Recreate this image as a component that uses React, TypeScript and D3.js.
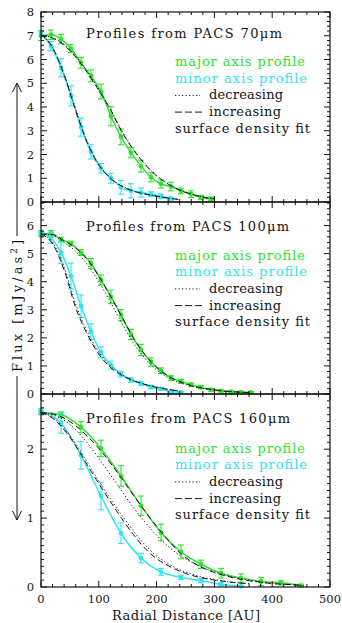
import React from "react";
import * as d3 from "d3";

// ---------- data ----------
// PACS 70um
const AU_70_MAJ = [0, 17.3, 34.6, 51.9, 69.2, 86.5, 103.8, 121.1, 138.4, 155.7, 173, 190.3, 207.6, 224.9, 242.2, 259.5, 276.8, 294.1];
const FLUX_70_MAJ = [7.0, 7.04, 6.86, 6.46, 5.86, 5.31, 4.65, 3.61, 2.74, 2.08, 1.51, 1.04, 0.76, 0.65, 0.47, 0.33, 0.19, 0.13];
const ERR_70_MAJ = [0.2, 0.2, 0.2, 0.17, 0.23, 0.25, 0.31, 0.4, 0.33, 0.22, 0.25, 0.19, 0.17, 0.18, 0.12, 0.14, 0.09, 0.08];
const AU_70_MIN = [0, 17.3, 34.6, 51.9, 69.2, 86.5, 103.8, 121.1, 138.4, 155.7, 173, 190.3, 207.6, 224.9];
const FLUX_70_MIN = [7.1, 6.56, 5.65, 4.47, 3.15, 2.11, 1.42, 1.0, 0.62, 0.47, 0.4, 0.33, 0.24, 0.14];
const ERR_70_MIN = [0.12, 0.2, 0.38, 0.42, 0.38, 0.3, 0.2, 0.21, 0.29, 0.3, 0.19, 0.1, 0.1, 0.06];
const MODEL_AU_70_MAJ = [0, 20, 40, 60, 80, 100, 120, 140, 160, 180, 200, 220, 240, 260, 280, 300];
const DASH_70_MAJ = [7.0, 6.9, 6.6, 6.1, 5.45, 4.7, 3.9, 2.95, 2.2, 1.58, 1.1, 0.75, 0.5, 0.33, 0.21, 0.13];
const DOT_70_MAJ = [7.0, 6.92, 6.64, 6.14, 5.5, 4.74, 3.92, 3.0, 2.22, 1.6, 1.12, 0.77, 0.52, 0.35, 0.22, 0.14];
const MODEL_AU_70_MIN = [0, 20, 40, 60, 80, 100, 120, 140, 160, 180, 200, 220, 240];
const DASH_70_MIN = [7.05, 6.5, 5.35, 3.85, 2.5, 1.55, 1.0, 0.66, 0.46, 0.33, 0.24, 0.16, 0.1];
const DOT_70_MIN = [7.05, 6.52, 5.4, 3.92, 2.55, 1.6, 1.02, 0.68, 0.47, 0.34, 0.25, 0.17, 0.11];

// PACS 100um
const AU_100_MAJ = [0, 17.3, 34.6, 51.9, 69.2, 86.5, 103.8, 121.1, 138.4, 155.7, 173, 190.3, 207.6, 224.9, 242.2, 259.5, 276.8, 294.1, 311.4, 328.7, 346, 363.3];
const FLUX_100_MAJ = [5.68, 5.72, 5.5, 5.36, 5.04, 4.65, 4.06, 3.46, 2.81, 2.12, 1.57, 1.14, 0.83, 0.57, 0.45, 0.33, 0.24, 0.15, 0.11, 0.08, 0.07, 0.06];
const ERR_100_MAJ = [0.08, 0.1, 0.08, 0.08, 0.1, 0.18, 0.18, 0.24, 0.2, 0.18, 0.2, 0.15, 0.1, 0.08, 0.07, 0.06, 0.05, 0.05, 0.04, 0.04, 0.03, 0.03];
const AU_100_MIN = [0, 17.3, 34.6, 51.9, 69.2, 86.5, 103.8, 121.1, 138.4, 155.7, 173, 190.3, 207.6, 224.9, 242.2];
const FLUX_100_MIN = [5.75, 5.56, 5.04, 4.2, 3.13, 2.22, 1.48, 1.03, 0.71, 0.5, 0.38, 0.25, 0.18, 0.09, 0.06];
const ERR_100_MIN = [0.08, 0.19, 0.38, 0.46, 0.4, 0.28, 0.2, 0.14, 0.1, 0.08, 0.07, 0.06, 0.05, 0.04, 0.03];
const MODEL_AU_100_MAJ = [0, 20, 40, 60, 80, 100, 120, 140, 160, 180, 200, 220, 240, 260, 280, 300, 320, 340, 360];
const DASH_100_MAJ = [5.7, 5.68, 5.46, 5.2, 4.8, 4.2, 3.5, 2.75, 2.0, 1.4, 0.95, 0.64, 0.44, 0.3, 0.21, 0.15, 0.1, 0.07, 0.05];
const DOT_100_MAJ = [5.7, 5.65, 5.4, 5.08, 4.62, 4.0, 3.28, 2.52, 1.82, 1.27, 0.86, 0.58, 0.4, 0.28, 0.2, 0.14, 0.1, 0.07, 0.05];
const MODEL_AU_100_MIN = [0, 20, 40, 60, 80, 100, 120, 140, 160, 180, 200, 220, 240];
const DASH_100_MIN = [5.7, 5.35, 4.42, 3.08, 2.13, 1.42, 0.95, 0.66, 0.47, 0.34, 0.24, 0.16, 0.1];
const DOT_100_MIN = [5.7, 5.4, 4.52, 3.2, 2.22, 1.5, 1.0, 0.69, 0.49, 0.35, 0.25, 0.17, 0.1];

// PACS 160um
const AU_160_MAJ = [0, 34.6, 69.2, 103.8, 138.4, 173, 207.6, 242.2, 276.8, 311.4, 346, 380.6, 415.2, 449.8];
const FLUX_160_MAJ = [2.53, 2.5, 2.32, 2.01, 1.61, 1.18, 0.79, 0.51, 0.33, 0.2, 0.13, 0.08, 0.06, 0.02];
const ERR_160_MAJ = [0.03, 0.04, 0.08, 0.12, 0.15, 0.14, 0.12, 0.1, 0.06, 0.07, 0.06, 0.06, 0.03, 0.02];
const AU_160_MIN = [0, 34.6, 69.2, 103.8, 138.4, 173, 207.6, 242.2, 276.8, 311.4, 346];
const FLUX_160_MIN = [2.55, 2.38, 1.91, 1.32, 0.78, 0.42, 0.22, 0.14, 0.09, 0.04, 0.01];
const ERR_160_MIN = [0.04, 0.15, 0.2, 0.2, 0.15, 0.07, 0.05, 0.03, 0.03, 0.02, 0.01];
const MODEL_AU_160_MAJ = [0, 20, 40, 60, 80, 100, 120, 140, 160, 180, 200, 220, 240, 260, 280, 300, 320, 340, 360, 380, 400, 420, 440, 455];
const DASH_160_MAJ = [2.53, 2.51, 2.45, 2.34, 2.19, 2.01, 1.8, 1.57, 1.33, 1.1, 0.88, 0.68, 0.5, 0.37, 0.28, 0.21, 0.16, 0.12, 0.09, 0.07, 0.05, 0.04, 0.03, 0.02];
const DOT_160_MAJ = [2.53, 2.5, 2.42, 2.28, 2.09, 1.87, 1.63, 1.39, 1.15, 0.94, 0.75, 0.59, 0.46, 0.36, 0.28, 0.22, 0.17, 0.13, 0.1, 0.07, 0.05, 0.04, 0.03, 0.02];
const MODEL_AU_160_MIN = [0, 20, 40, 60, 80, 100, 120, 140, 160, 180, 200, 220, 240, 260, 280, 300, 320, 340, 360];
const DASH_160_MIN = [2.53, 2.45, 2.28, 2.05, 1.77, 1.5, 1.24, 0.99, 0.76, 0.56, 0.41, 0.31, 0.23, 0.17, 0.13, 0.1, 0.08, 0.06, 0.05];
const DOT_160_MIN = [2.53, 2.46, 2.3, 2.08, 1.81, 1.54, 1.28, 1.04, 0.81, 0.61, 0.45, 0.34, 0.25, 0.19, 0.14, 0.11, 0.08, 0.06, 0.05];

const TITLES = ["Profiles from PACS 70\u03bcm", "Profiles from PACS 100\u03bcm", "Profiles from PACS 160\u03bcm"];
const LEGEND_MAJOR = "major axis profile";
const LEGEND_MINOR = "minor axis profile";
const LEGEND_DEC = "decreasing";
const LEGEND_INC = "increasing";
const LEGEND_FIT = "surface density fit";
const X_TICKS = [0, 100, 200, 300, 400, 500];
const X_LABEL = "Radial Distance [AU]";

// ---------- layout ----------
const LEFT = 41;
const RIGHT = 330;
const GREEN = "#2ee22e";
const CYAN = "#30e4f0";
const INK = "#141414";
const FONT = "'DejaVu Serif', 'Liberation Serif', serif";

const xScale = d3.scaleLinear().domain([0, 500]).range([LEFT, RIGHT]);

type Series = { x: number[]; y: number[]; e: number[] };
type Model = { x: number[]; dash: number[]; dot: number[] };
type Panel = {
  top: number;
  bottom: number;
  ymax: number;
  minor: number;
  title: string;
  titleY: number;
  legendY: number;
  titleW: number;
  major: Series;
  minorS: Series;
  majModel: Model;
  minModel: Model;
};

const PANELS: Panel[] = [
  {
    top: 12, bottom: 202, ymax: 8, minor: 0.2, title: TITLES[0], titleY: 38, legendY: 66, titleW: 196,
    major: { x: AU_70_MAJ, y: FLUX_70_MAJ, e: ERR_70_MAJ },
    minorS: { x: AU_70_MIN, y: FLUX_70_MIN, e: ERR_70_MIN },
    majModel: { x: MODEL_AU_70_MAJ, dash: DASH_70_MAJ, dot: DOT_70_MAJ },
    minModel: { x: MODEL_AU_70_MIN, dash: DASH_70_MIN, dot: DOT_70_MIN },
  },
  {
    top: 202, bottom: 394, ymax: 6.84, minor: 0.2, title: TITLES[1], titleY: 231, legendY: 259.5, titleW: 203,
    major: { x: AU_100_MAJ, y: FLUX_100_MAJ, e: ERR_100_MAJ },
    minorS: { x: AU_100_MIN, y: FLUX_100_MIN, e: ERR_100_MIN },
    majModel: { x: MODEL_AU_100_MAJ, dash: DASH_100_MAJ, dot: DOT_100_MAJ },
    minModel: { x: MODEL_AU_100_MIN, dash: DASH_100_MIN, dot: DOT_100_MIN },
  },
  {
    top: 394, bottom: 587, ymax: 2.8, minor: 0.1, title: TITLES[2], titleY: 423, legendY: 452.5, titleW: 204,
    major: { x: AU_160_MAJ, y: FLUX_160_MAJ, e: ERR_160_MAJ },
    minorS: { x: AU_160_MIN, y: FLUX_160_MIN, e: ERR_160_MIN },
    majModel: { x: MODEL_AU_160_MAJ, dash: DASH_160_MAJ, dot: DOT_160_MAJ },
    minModel: { x: MODEL_AU_160_MIN, dash: DASH_160_MIN, dot: DOT_160_MIN },
  },
];

function PanelView({ p }: { p: Panel }) {
  const y = d3.scaleLinear().domain([0, p.ymax]).range([p.bottom, p.top]);
  const line = d3
    .line<[number, number]>()
    .x((d) => xScale(d[0]))
    .y((d) => y(d[1]))
    .curve(d3.curveMonotoneX);
  const pts = (xs: number[], ys: number[]) => xs.map((v, i) => [v, ys[i]] as [number, number]);

  const yMajor = d3.range(0, Math.floor(p.ymax + 1e-9) + 1);
  const yMinor = d3.range(0, p.ymax + 1e-9, p.minor).filter((v) => Math.abs(v - Math.round(v)) > 1e-6);
  const xMinor = d3.range(0, 501, 20).filter((v) => v % 100 !== 0);

  const ticks: JSX.Element[] = [];
  yMajor.forEach((v, i) => {
    const yy = y(v);
    ticks.push(<line key={`ylM${i}`} x1={LEFT} x2={LEFT + 6} y1={yy} y2={yy} />);
    ticks.push(<line key={`yrM${i}`} x1={RIGHT} x2={RIGHT - 6} y1={yy} y2={yy} />);
  });
  yMinor.forEach((v, i) => {
    const yy = y(v);
    ticks.push(<line key={`ylm${i}`} x1={LEFT} x2={LEFT + 3} y1={yy} y2={yy} />);
    ticks.push(<line key={`yrm${i}`} x1={RIGHT} x2={RIGHT - 3} y1={yy} y2={yy} />);
  });
  X_TICKS.forEach((v, i) => {
    const xx = xScale(v);
    ticks.push(<line key={`xbM${i}`} x1={xx} x2={xx} y1={p.bottom} y2={p.bottom - 6} />);
    ticks.push(<line key={`xtM${i}`} x1={xx} x2={xx} y1={p.top} y2={p.top + 6} />);
  });
  xMinor.forEach((v, i) => {
    const xx = xScale(v);
    ticks.push(<line key={`xbm${i}`} x1={xx} x2={xx} y1={p.bottom} y2={p.bottom - 3} />);
    ticks.push(<line key={`xtm${i}`} x1={xx} x2={xx} y1={p.top} y2={p.top + 3} />);
  });

  const errBars = (s: Series, color: string, k: string) =>
    s.x.map((v, i) => {
      const xx = xScale(v);
      const y1 = y(s.y[i] + s.e[i]);
      const y2 = y(Math.max(0, s.y[i] - s.e[i]));
      return (
        <g key={`${k}${i}`} stroke={color} strokeWidth={1.1}>
          <line x1={xx} x2={xx} y1={y1} y2={y2} />
          <line x1={xx - 3} x2={xx + 3} y1={y1} y2={y1} />
          <line x1={xx - 3} x2={xx + 3} y1={y2} y2={y2} />
          <circle cx={xx} cy={y(s.y[i])} r={2.4} fill={color} stroke="none" />
        </g>
      );
    });

  const ly = p.legendY;
  const step = 16.7;
  return (
    <g>
      {/* colored profile lines */}
      <path d={line(pts(p.major.x, p.major.y)) || ""} fill="none" stroke={GREEN} strokeWidth={1.5} />
      <path d={line(pts(p.minorS.x, p.minorS.y)) || ""} fill="none" stroke={CYAN} strokeWidth={1.5} />
      {errBars(p.major, GREEN, "g")}
      {errBars(p.minorS, CYAN, "c")}
      {/* model curves */}
      <g fill="none" stroke={INK} strokeWidth={1}>
        <path d={line(pts(p.majModel.x, p.majModel.dot)) || ""} strokeDasharray="1.2,2.3" />
        <path d={line(pts(p.majModel.x, p.majModel.dash)) || ""} strokeDasharray="6,3.5" />
        <path d={line(pts(p.minModel.x, p.minModel.dot)) || ""} strokeDasharray="1.2,2.3" />
        <path d={line(pts(p.minModel.x, p.minModel.dash)) || ""} strokeDasharray="6,3.5" />
      </g>
      {/* frame & ticks */}
      <rect x={LEFT} y={p.top} width={RIGHT - LEFT} height={p.bottom - p.top} fill="none" stroke={INK} strokeWidth={1.2} />
      <g stroke={INK} strokeWidth={1}>{ticks}</g>
      {/* y tick labels */}
      <g fontFamily={FONT} fontSize={11.5} fill={INK} textAnchor="end">
        {yMajor.map((v) => (
          <text key={v} x={34} y={y(v)} dy="0.36em">{String(v)}</text>
        ))}
      </g>
      {/* title & legend */}
      <g fontFamily={FONT} fontSize={13} fill={INK}>
        <text x={86} y={p.titleY} textLength={p.titleW} lengthAdjust="spacing">{p.title}</text>
        <text x={175} y={ly} fill={GREEN} textLength={130} lengthAdjust="spacing">{LEGEND_MAJOR}</text>
        <text x={175} y={ly + step} fill={CYAN} textLength={132} lengthAdjust="spacing">{LEGEND_MINOR}</text>
        <line x1={175} x2={200} y1={ly + 2 * step - 4} y2={ly + 2 * step - 4} stroke={INK} strokeDasharray="1.2,2.3" />
        <text x={209} y={ly + 2 * step} textLength={74} lengthAdjust="spacing">{LEGEND_DEC}</text>
        <line x1={175} x2={204} y1={ly + 3 * step - 4} y2={ly + 3 * step - 4} stroke={INK} strokeDasharray="7,3" />
        <text x={209} y={ly + 3 * step} textLength={72} lengthAdjust="spacing">{LEGEND_INC}</text>
        <text x={175} y={ly + 4 * step} textLength={135} lengthAdjust="spacing">{LEGEND_FIT}</text>
      </g>
    </g>
  );
}

export default function App() {
  return (
    <svg width={342} height={623} style={{ position: "absolute", left: 0, top: 0, background: "#fff" }}>
      <rect x={0} y={0} width={342} height={623} fill="#fff" />
      {PANELS.map((p, i) => (
        <PanelView key={i} p={p} />
      ))}
      {/* x tick labels */}
      <g fontFamily={FONT} fontSize={11.5} fill={INK} textAnchor="middle">
        {X_TICKS.map((v) => (
          <text key={v} x={xScale(v)} y={603}>{String(v)}</text>
        ))}
      </g>
      <text x={186} y={620} fontFamily={FONT} fontSize={13} fill={INK} textAnchor="middle" textLength={148} lengthAdjust="spacing">
        {X_LABEL}
      </text>
      {/* y axis label with arrows */}
      <g stroke={INK} strokeWidth={1} fill="none">
        <line x1={17} x2={17} y1={83} y2={236} />
        <polyline points="12.5,92 17,83 21.5,92" />
        <line x1={17} x2={17} y1={376} y2={520} />
        <polyline points="12.5,511 17,520 21.5,511" />
      </g>
      <text
        transform="translate(21.5,306) rotate(-90)"
        fontFamily={FONT}
        fontSize={13}
        fill={INK}
        textAnchor="middle"
        textLength={132}
        lengthAdjust="spacing"
      >
        Flux [mJy/as<tspan dy={-5} fontSize={9}>2</tspan>
        <tspan dy={5}>]</tspan>
      </text>
    </svg>
  );
}
